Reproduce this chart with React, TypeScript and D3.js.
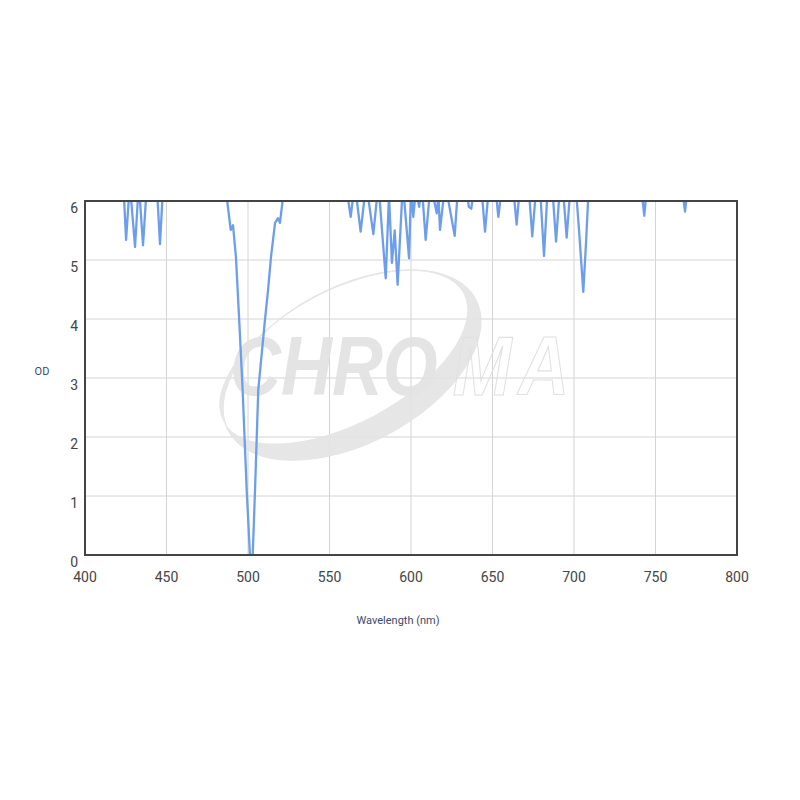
import React from "react";
import * as d3 from "d3";

const wavelengths = [
  400, 420, 423.5, 425.2, 427.5, 430.7, 433, 435.6, 438, 444, 446, 448,
  486, 486.8, 489.4, 490.8, 492.6, 494.7, 496.7, 499.2, 501.2, 502.9, 504.3, 506.3, 510.4, 512.3, 514.1, 516.6, 518.4, 519.6, 522.5,
  560, 563.0, 565.5, 569.1, 572.5, 576.9, 580, 584.5, 586.5, 588.3, 590, 591.8, 595, 598.8, 600, 601.4, 603, 605, 606.5,
  609.0, 612, 615.8, 616.8, 617.8, 621, 626.8, 629, 634.5, 635.5, 637, 639, 643, 645.4, 648, 651.5, 653.6, 656,
  662.5, 664.8, 667, 672, 674.4, 677, 679, 681.6, 684, 686.5, 689.0, 691.5, 693, 695.5, 698,
  701.6, 703.1, 705.7, 707.4, 708.8, 710, 741, 743.1, 745, 766, 768.1, 770, 800,
];
const odValues = [
  6.6, 6.6, 6.3, 5.34, 6.3, 5.22, 6.3, 5.25, 6.3, 6.3, 5.27, 6.3,
  6.3, 6.1, 5.51, 5.59, 5.05, 3.93, 2.8, 1.1, 0, 0, 1.1, 2.8, 3.98, 4.49, 5.05, 5.63, 5.71, 5.63, 6.3,
  6.3, 5.73, 6.3, 5.48, 6.3, 5.44, 6.3, 4.69, 6.1, 4.95, 5.5, 4.58, 6.3, 5.03, 6.2, 5.73, 6.2, 5.9, 6.3,
  5.34, 6.3, 5.79, 6.1, 5.51, 6.3, 5.41, 6.3, 6.1, 5.9, 5.87, 6.3, 6.3, 5.48, 6.3, 6.3, 5.73, 6.3,
  6.3, 5.6, 6.3, 6.3, 5.4, 6.3, 6.3, 5.07, 6.3, 6.3, 5.31, 6.3, 6.3, 5.38, 6.3,
  6.05, 5.5, 4.46, 5.3, 6.1, 6.4, 6.3, 5.75, 6.3, 6.3, 5.82, 6.3, 6.5,
];
const xTicks = [400, 450, 500, 550, 600, 650, 700, 750, 800];
const yTicks = [0, 1, 2, 3, 4, 5, 6];

export default function App() {
  const left = 85, right = 737, top = 201, bottom = 555;
  const x = d3.scaleLinear().domain([400, 800]).range([left, right]);
  const y = d3.scaleLinear().domain([0, 6]).range([bottom, top]);
  const data = wavelengths.map((w, i) => [w, odValues[i]] as [number, number]);
  const line = d3.line<[number, number]>().x((d) => x(d[0])).y((d) => y(d[1]));
  const font = "Roboto, 'Noto Sans', sans-serif";

  const ellipsePath = (cx: number, cy: number, rx: number, ry: number) =>
    `M${cx - rx},${cy} a${rx},${ry} 0 1,0 ${2 * rx},0 a${rx},${ry} 0 1,0 ${-2 * rx},0 Z`;

  return (
    <svg width={800} height={800} style={{ position: "absolute", left: 0, top: 0, background: "#fff" }}>
      <rect x={0} y={0} width={800} height={800} fill="#fff" />
      {xTicks.map((t) => (
        <line key={"gx" + t} x1={x(t)} x2={x(t)} y1={top} y2={bottom} stroke="#d4d4d4" strokeWidth={1} />
      ))}
      {yTicks.map((t) => (
        <line key={"gy" + t} x1={left} x2={right} y1={y(t)} y2={y(t)} stroke="#d4d4d4" strokeWidth={1} />
      ))}
      <g opacity={0.9}>
        <g transform="translate(352,365) rotate(-28)">
          <path d={ellipsePath(0, 0, 140, 78)} fill="none" stroke="#e2e2e2" strokeWidth={1.2} />
          <path
            d={ellipsePath(0, 0, 140, 78) + ellipsePath(-4, -11, 136, 66)}
            fill="#e4e4e4"
            fillRule="evenodd"
          />
        </g>
        <text transform="translate(230,395) scale(0.84,1)" fontFamily="'Liberation Sans', Arial, sans-serif"
          fontWeight="bold" fontStyle="italic" fontSize={84}>
          <tspan fill="#e2e2e2">CHRO</tspan>
          <tspan dx={18} fill="none" stroke="#dedede" strokeWidth={1.2} letterSpacing={8}>MA</tspan>
        </text>
      </g>
      <defs>
        <clipPath id="plotClip">
          <rect x={left} y={top} width={right - left} height={bottom - top} />
        </clipPath>
      </defs>
      <path d={line(data) || ""} fill="none" stroke="#6d9eeb" strokeWidth={2.3} strokeLinejoin="round" clipPath="url(#plotClip)" />
      <rect x={left} y={top} width={right - left} height={bottom - top} fill="none" stroke="#444" strokeWidth={2} />
      {xTicks.map((t) => (
        <text key={"tx" + t} x={x(t)} y={582} textAnchor="middle" fontFamily={font} fontSize={14} fill="#444">{t}</text>
      ))}
      {yTicks.map((t) => (
        <text key={"ty" + t} x={78} y={y(t) + 12} textAnchor="end" fontFamily={font} fontSize={14} fill="#444">{t}</text>
      ))}
      <text x={42} y={375} textAnchor="middle" fontFamily={font} fontSize={11} fill="#3a4a6a">OD</text>
      <text x={398} y={624} textAnchor="middle" fontFamily={font} fontSize={11} fill="#3a4a6a">Wavelength (nm)</text>
    </svg>
  );
}
